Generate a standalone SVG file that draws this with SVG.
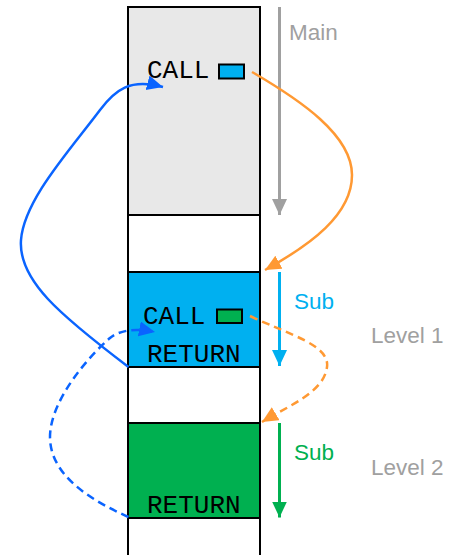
<svg xmlns="http://www.w3.org/2000/svg" width="458" height="555" viewBox="0 0 458 555">
<defs>
<style>
.blk{stroke:#000;stroke-width:2}
.mono{font-family:"Liberation Mono","Courier New",monospace;font-size:26px;fill:#000}
.lbl{font-family:"Liberation Sans",Arial,sans-serif;font-size:22.5px}
.con{fill:none;stroke-width:2.5}
.dash{stroke-dasharray:8 5}
</style>
<marker id="aGray" markerUnits="userSpaceOnUse" markerWidth="17" markerHeight="16" refX="16" refY="7.5" orient="auto"><path d="M0,0 L16,7.5 L0,15 z" fill="#a0a0a0"/></marker>
<marker id="aSky" markerUnits="userSpaceOnUse" markerWidth="17" markerHeight="16" refX="16" refY="7.5" orient="auto"><path d="M0,0 L16,7.5 L0,15 z" fill="#00b0f0"/></marker>
<marker id="aGreen" markerUnits="userSpaceOnUse" markerWidth="17" markerHeight="16" refX="16" refY="7.5" orient="auto"><path d="M0,0 L16,7.5 L0,15 z" fill="#00b050"/></marker>
<marker id="aOrange" markerUnits="userSpaceOnUse" markerWidth="17" markerHeight="16" refX="16" refY="7.5" orient="auto"><path d="M0,0 L16,7.5 L0,15 z" fill="#ff9933"/></marker>
<marker id="aBlue" markerUnits="userSpaceOnUse" markerWidth="17" markerHeight="16" refX="16" refY="7.5" orient="auto"><path d="M0,0 L16,7.5 L0,15 z" fill="#0a64ff"/></marker>
</defs>
<rect width="458" height="555" fill="#fff"/>
<g id="column">
<rect class="blk" x="128" y="7" width="132" height="560" fill="#fff"/>
</g>
<g id="main-block">
<rect class="blk" x="128" y="7" width="132" height="208" fill="#e8e8e8"/>
<text class="mono" x="147" y="78">CALL</text>
<rect x="219" y="64.5" width="25" height="14" fill="#00b0f0" stroke="#000" stroke-width="2"/>
</g>
<g id="sub1-block">
<rect class="blk" x="128" y="272" width="132" height="95" fill="#00b0f0"/>
<text class="mono" x="143" y="323.5">CALL</text>
<rect x="217" y="309.5" width="25" height="13.5" fill="#00b050" stroke="#000" stroke-width="2"/>
<text class="mono" x="147" y="362">RETURN</text>
</g>
<g id="sub2-block">
<rect class="blk" x="128" y="423" width="132" height="95" fill="#00b050"/>
<text class="mono" x="147" y="512.5">RETURN</text>
</g>
<g id="labels">
<text class="lbl" x="289" y="39.5" fill="#a0a0a0">Main</text>
<text class="lbl" x="294" y="308.5" fill="#00b0f0">Sub</text>
<text class="lbl" x="294" y="460" fill="#00b050">Sub</text>
<text class="lbl" x="371" y="342.5" fill="#a0a0a0">Level 1</text>
<text class="lbl" x="371" y="475" fill="#a0a0a0">Level 2</text>
</g>
<g id="connectors">
<line x1="279.5" y1="7" x2="279.5" y2="215" stroke="#a0a0a0" stroke-width="3" marker-end="url(#aGray)"/>
<line x1="279.5" y1="272" x2="279.5" y2="366" stroke="#00b0f0" stroke-width="3" marker-end="url(#aSky)"/>
<line x1="279.5" y1="423" x2="279.5" y2="517.5" stroke="#00b050" stroke-width="3" marker-end="url(#aGreen)"/>
<path class="con" stroke="#ff9933" d="M252,72 C300,100 352,135 352,175 C352,215 310,245 265,270" marker-end="url(#aOrange)"/>
<path class="con dash" stroke="#ff9933" d="M250,316 C290,335 330,345 327,367 C324,392 290,405 262,422" marker-end="url(#aOrange)"/>
<path class="con" stroke="#0a64ff" d="M128.5,367 C60,315 18,280 21,240 C24,200 70,150 100,110 C115,90 130,78 163,87" marker-end="url(#aBlue)"/>
<path class="con dash" stroke="#0a64ff" d="M128.5,517 C90,500 50,475 50,437 C50,400 90,355 110,338 C120,330 135,328 155,332" marker-end="url(#aBlue)"/>
</g>
</svg>
